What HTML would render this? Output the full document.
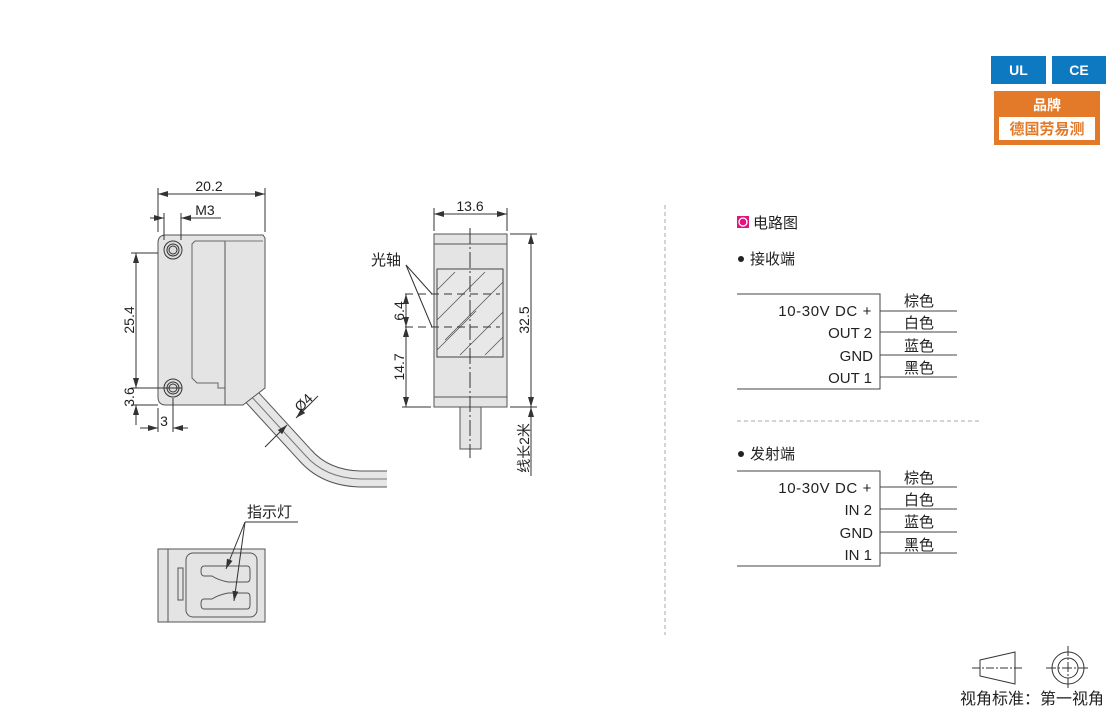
<!DOCTYPE html>
<html><head><meta charset="utf-8"><style>
html,body{margin:0;padding:0;background:#fff;width:1110px;height:709px;overflow:hidden}
svg{display:block}
text{font-family:"Liberation Sans","Noto Sans CJK SC",sans-serif;fill:#222}
</style></head><body>
<svg width="1110" height="709" viewBox="0 0 1110 709" xmlns="http://www.w3.org/2000/svg">
<defs>
<marker id="a" viewBox="0 0 10 6" refX="10" refY="3" markerWidth="10" markerHeight="6" orient="auto-start-reverse" markerUnits="userSpaceOnUse"><path d="M0,0L10,3L0,6z" fill="#333"/></marker>
</defs>
<rect x="991" y="56" width="55" height="28" fill="#0c79c1"/>
<text x="1018.5" y="75" font-size="14" font-weight="bold" text-anchor="middle" style="fill:#fff">UL</text>
<rect x="1052" y="56" width="54" height="28" fill="#0c79c1"/>
<text x="1079" y="75" font-size="14" font-weight="bold" text-anchor="middle" style="fill:#fff">CE</text>
<rect x="994" y="91" width="106" height="54" fill="#e37a2a"/>
<text x="1047" y="110" font-size="14" font-weight="bold" text-anchor="middle" style="fill:#fff">品牌</text>
<rect x="999" y="117" width="96" height="23" fill="#fff"/>
<text x="1047" y="134" font-size="15" font-weight="bold" text-anchor="middle" style="fill:#e37a2a">德国劳易测</text>

<g stroke="#333" stroke-width="1" fill="none">
<path d="M250,395 L305,455 Q325,478 360,479 L387,479" stroke="#555" stroke-width="17"/>
<path d="M250,395 L305,455 Q325,478 360,479 L387,479" stroke="#e6e6e6" stroke-width="15"/>
<path d="M250,395 L305,455 Q325,478 360,479 L387,479" stroke="#777" stroke-width="1"/>
<path d="M166,235 L263,235 L265,238 L265,388 L243,405 L166,405 Q158,405 158,397 L158,243 Q158,235 166,235Z" fill="#e4e4e4" stroke="#555"/>
<path d="M195,241 L225,241 L225,388 L218,388 L218,383 L197,383 L192,378 L192,244Z" stroke="#666"/>
<line x1="225" y1="241" x2="225" y2="405" stroke="#555"/>
<line x1="225" y1="241" x2="263" y2="241" stroke="#777"/>
<circle cx="173" cy="250" r="9" fill="#ddd"/><circle cx="173" cy="250" r="6"/><circle cx="173" cy="250" r="4"/>
<circle cx="173" cy="388" r="9" fill="#ddd"/><circle cx="173" cy="388" r="6"/><circle cx="173" cy="388" r="4"/>
<line x1="158" y1="232" x2="158" y2="188"/><line x1="265" y1="232" x2="265" y2="188"/>
<line x1="158" y1="194" x2="265" y2="194" marker-start="url(#a)" marker-end="url(#a)"/>
<line x1="164" y1="240" x2="164" y2="213"/><line x1="181" y1="240" x2="181" y2="213"/>
<line x1="150" y1="218" x2="164" y2="218" marker-end="url(#a)"/>
<line x1="221" y1="218" x2="181" y2="218" marker-end="url(#a)"/>
<line x1="131" y1="253" x2="158" y2="253"/><line x1="131" y1="388" x2="182" y2="388"/><line x1="131" y1="405" x2="158" y2="405"/>
<line x1="136" y1="253" x2="136" y2="388" marker-start="url(#a)" marker-end="url(#a)"/>
<line x1="136" y1="425" x2="136" y2="405" marker-end="url(#a)"/>
<line x1="158" y1="408" x2="158" y2="432"/><line x1="173" y1="398" x2="173" y2="432"/>
<line x1="140" y1="428" x2="158" y2="428" marker-end="url(#a)"/>
<line x1="188" y1="428" x2="173" y2="428" marker-end="url(#a)"/>
<line x1="265" y1="447" x2="287" y2="425" marker-end="url(#a)"/>
<line x1="318" y1="396" x2="296" y2="418" marker-end="url(#a)"/>
<rect x="460" y="407" width="21" height="42" fill="#e4e4e4" stroke="#555"/>
<rect x="434" y="234" width="73" height="173" fill="#e4e4e4" stroke="#555"/>
<line x1="434" y1="244" x2="507" y2="244" stroke="#555"/><line x1="434" y1="397" x2="507" y2="397" stroke="#555"/>
<rect x="437" y="269" width="66" height="88" fill="#e8e8e8" stroke="#444"/>
<g stroke="#555" stroke-width="0.8">
<line x1="437" y1="290" x2="455" y2="272"/><line x1="437" y1="320" x2="485" y2="272"/><line x1="445" y1="340" x2="503" y2="282"/>
<line x1="460" y1="355" x2="503" y2="312"/><line x1="485" y1="355" x2="503" y2="337"/><line x1="437" y1="350" x2="476" y2="311"/>
</g>
<line x1="470" y1="228" x2="470" y2="458" stroke-dasharray="16,3,2,3"/>
<line x1="405" y1="294" x2="500" y2="294" stroke-dasharray="8,5"/>
<line x1="405" y1="327" x2="500" y2="327" stroke-dasharray="8,5"/>
<line x1="434" y1="231" x2="434" y2="208"/><line x1="507" y1="231" x2="507" y2="208"/>
<line x1="434" y1="214" x2="507" y2="214" marker-start="url(#a)" marker-end="url(#a)"/>
<line x1="510" y1="234" x2="537" y2="234"/><line x1="510" y1="407" x2="537" y2="407"/>
<line x1="531" y1="234" x2="531" y2="407" marker-start="url(#a)" marker-end="url(#a)"/>
<line x1="531" y1="407" x2="531" y2="476" marker-start="url(#a)"/>
<line x1="402" y1="407" x2="431" y2="407"/>
<line x1="406" y1="294" x2="406" y2="327" marker-start="url(#a)" marker-end="url(#a)"/>
<line x1="406" y1="327" x2="406" y2="407" marker-start="url(#a)" marker-end="url(#a)"/>
<line x1="406" y1="265" x2="432" y2="294"/><line x1="406" y1="265" x2="432" y2="327"/>
<rect x="158" y="549" width="107" height="73" fill="#e4e4e4" stroke="#555"/>
<line x1="168" y1="549" x2="168" y2="622" stroke="#555"/>
<rect x="178" y="568" width="5" height="32" stroke="#555"/>
<rect x="186" y="553" width="71" height="64" rx="7" stroke="#555"/>
<path d="M204,566 L247,566 Q250,566 250,570 L250,578 Q250,582 247,582 L228,582 Q218,580 212,576 L204,576 Q201,576 201,571 Q201,566 204,566Z" stroke="#555"/>
<path d="M204,609 L247,609 Q250,609 250,605 L250,597 Q250,593 247,593 L228,593 Q218,595 212,599 L204,599 Q201,599 201,604 Q201,609 204,609Z" stroke="#555"/>
<line x1="245" y1="522" x2="298" y2="522"/>
<line x1="245" y1="522" x2="226" y2="569" marker-end="url(#a)"/>
<line x1="245" y1="522" x2="234" y2="601" marker-end="url(#a)"/>
<line x1="665" y1="205" x2="665" y2="635" stroke="#aaa" stroke-dasharray="4,3"/>
<line x1="737" y1="421" x2="980" y2="421" stroke="#aaa" stroke-dasharray="4,3"/>
<path d="M737,294 L880,294 L880,389 L737,389" stroke="#444"/>
<g stroke="#444"><line x1="880" y1="311" x2="957" y2="311"/><line x1="880" y1="332" x2="957" y2="332"/><line x1="880" y1="355" x2="957" y2="355"/><line x1="880" y1="377" x2="957" y2="377"/></g>
<path d="M737,471 L880,471 L880,566 L737,566" stroke="#444"/>
<g stroke="#444"><line x1="880" y1="487" x2="957" y2="487"/><line x1="880" y1="509" x2="957" y2="509"/><line x1="880" y1="532" x2="957" y2="532"/><line x1="880" y1="553" x2="957" y2="553"/></g>
<path d="M980,660 L1015,652 L1015,684 L980,676Z" stroke="#333"/>
<line x1="972" y1="668" x2="1022" y2="668" stroke-dasharray="8,2,2,2"/>
<circle cx="1068" cy="668" r="16"/><circle cx="1068" cy="668" r="10"/>
<line x1="1046" y1="668" x2="1090" y2="668" stroke-dasharray="10,2,2,2"/>
<line x1="1068" y1="646" x2="1068" y2="690" stroke-dasharray="10,2,2,2"/>
</g>
<circle cx="741" cy="259" r="3" fill="#222"/>
<circle cx="741" cy="454" r="3" fill="#222"/>
<rect x="737" y="216" width="12" height="12" fill="#e0157f"/>
<circle cx="743" cy="222" r="4" fill="none" stroke="#fff" stroke-width="1.3"/>

<g font-size="14">
<text x="209" y="191" text-anchor="middle">20.2</text>
<text x="205" y="215" text-anchor="middle">M3</text>
<text transform="translate(134,320) rotate(-90)" text-anchor="middle">25.4</text>
<text transform="translate(134,397) rotate(-90)" text-anchor="middle">3.6</text>
<text x="164" y="426" text-anchor="middle">3</text>
<text transform="translate(307,406) rotate(-45)" text-anchor="middle">Ø4</text>
<text x="470" y="211" text-anchor="middle">13.6</text>
<text transform="translate(529,320) rotate(-90)" text-anchor="middle">32.5</text>
<text transform="translate(529,448) rotate(-90)" text-anchor="middle">线长2米</text>
<text transform="translate(404,311) rotate(-90)" text-anchor="middle">6.4</text>
<text transform="translate(404,367) rotate(-90)" text-anchor="middle">14.7</text>
<text x="371" y="265" font-size="15">光轴</text>
<text x="247" y="517" font-size="15">指示灯</text>
</g>
<g font-size="15">
<text x="753" y="228">电路图</text>
<text x="750" y="264">接收端</text>
<text x="750" y="459">发射端</text>
<text x="872" y="316" text-anchor="end" letter-spacing="0.6">10-30V  DC +</text>
<text x="872" y="338" text-anchor="end">OUT 2</text>
<text x="873" y="361" text-anchor="end">GND</text>
<text x="872" y="383" text-anchor="end">OUT 1</text>
<text x="904" y="306">棕色</text><text x="904" y="328">白色</text><text x="904" y="351">蓝色</text><text x="904" y="373">黑色</text>
<text x="872" y="493" text-anchor="end" letter-spacing="0.6">10-30V  DC +</text>
<text x="872" y="515" text-anchor="end">IN 2</text>
<text x="873" y="538" text-anchor="end">GND</text>
<text x="872" y="560" text-anchor="end">IN 1</text>
<text x="904" y="483">棕色</text><text x="904" y="505">白色</text><text x="904" y="527">蓝色</text><text x="904" y="550">黑色</text>
<text x="960" y="704" font-size="16">视角标准：第一视角</text>
</g>
</svg>
</body></html>
